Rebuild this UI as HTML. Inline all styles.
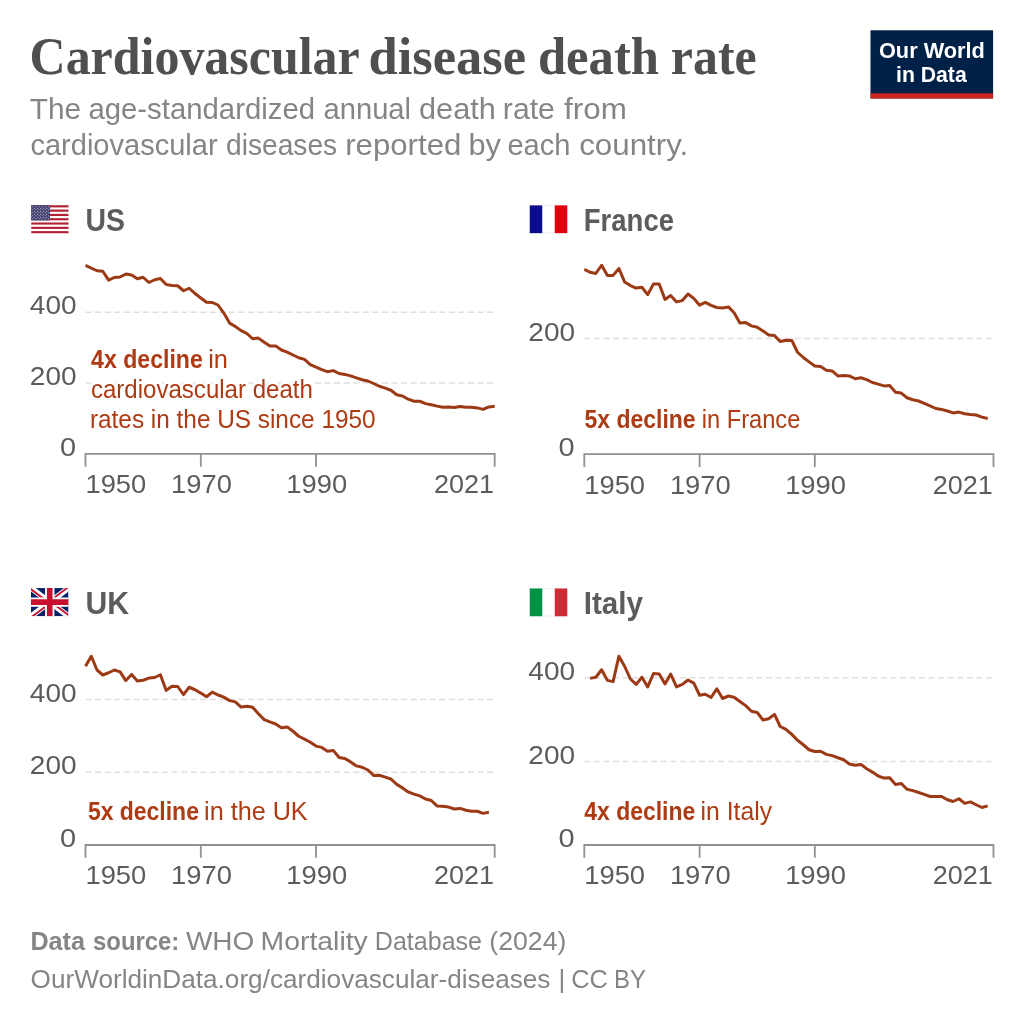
<!DOCTYPE html>
<html lang="en"><head><meta charset="utf-8"><title>Cardiovascular disease death rate</title>
<style>
html,body{margin:0;padding:0;background:#fff;width:1024px;height:1024px;overflow:hidden}
svg{display:block}
</style></head><body>
<svg width="1024" height="1024" viewBox="0 0 1024 1024">
<rect width="1024" height="1024" fill="#fff"/>
<rect x="870.5" y="30.3" width="122.6" height="68.2" fill="#002147"/>
<rect x="870.5" y="93.3" width="122.6" height="5.2" fill="#ce261e"/>
<g transform="translate(31.25 205.25)">
<rect width="37.25" height="28" fill="#fff"/>
<rect y="0.00" width="37.25" height="2.15" fill="#b22234"/>
<rect y="4.31" width="37.25" height="2.15" fill="#b22234"/>
<rect y="8.62" width="37.25" height="2.15" fill="#b22234"/>
<rect y="12.92" width="37.25" height="2.15" fill="#b22234"/>
<rect y="17.23" width="37.25" height="2.15" fill="#b22234"/>
<rect y="21.54" width="37.25" height="2.15" fill="#b22234"/>
<rect y="25.85" width="37.25" height="2.15" fill="#b22234"/>
<rect width="18.62" height="15.08" fill="#3c3b6e"/>
<circle cx="1.55" cy="1.51" r="0.55" fill="#fff" fill-opacity="0.85"/>
<circle cx="4.66" cy="1.51" r="0.55" fill="#fff" fill-opacity="0.85"/>
<circle cx="7.76" cy="1.51" r="0.55" fill="#fff" fill-opacity="0.85"/>
<circle cx="10.86" cy="1.51" r="0.55" fill="#fff" fill-opacity="0.85"/>
<circle cx="13.97" cy="1.51" r="0.55" fill="#fff" fill-opacity="0.85"/>
<circle cx="17.07" cy="1.51" r="0.55" fill="#fff" fill-opacity="0.85"/>
<circle cx="3.10" cy="3.02" r="0.55" fill="#fff" fill-opacity="0.85"/>
<circle cx="6.21" cy="3.02" r="0.55" fill="#fff" fill-opacity="0.85"/>
<circle cx="9.31" cy="3.02" r="0.55" fill="#fff" fill-opacity="0.85"/>
<circle cx="12.42" cy="3.02" r="0.55" fill="#fff" fill-opacity="0.85"/>
<circle cx="15.52" cy="3.02" r="0.55" fill="#fff" fill-opacity="0.85"/>
<circle cx="1.55" cy="4.52" r="0.55" fill="#fff" fill-opacity="0.85"/>
<circle cx="4.66" cy="4.52" r="0.55" fill="#fff" fill-opacity="0.85"/>
<circle cx="7.76" cy="4.52" r="0.55" fill="#fff" fill-opacity="0.85"/>
<circle cx="10.86" cy="4.52" r="0.55" fill="#fff" fill-opacity="0.85"/>
<circle cx="13.97" cy="4.52" r="0.55" fill="#fff" fill-opacity="0.85"/>
<circle cx="17.07" cy="4.52" r="0.55" fill="#fff" fill-opacity="0.85"/>
<circle cx="3.10" cy="6.03" r="0.55" fill="#fff" fill-opacity="0.85"/>
<circle cx="6.21" cy="6.03" r="0.55" fill="#fff" fill-opacity="0.85"/>
<circle cx="9.31" cy="6.03" r="0.55" fill="#fff" fill-opacity="0.85"/>
<circle cx="12.42" cy="6.03" r="0.55" fill="#fff" fill-opacity="0.85"/>
<circle cx="15.52" cy="6.03" r="0.55" fill="#fff" fill-opacity="0.85"/>
<circle cx="1.55" cy="7.54" r="0.55" fill="#fff" fill-opacity="0.85"/>
<circle cx="4.66" cy="7.54" r="0.55" fill="#fff" fill-opacity="0.85"/>
<circle cx="7.76" cy="7.54" r="0.55" fill="#fff" fill-opacity="0.85"/>
<circle cx="10.86" cy="7.54" r="0.55" fill="#fff" fill-opacity="0.85"/>
<circle cx="13.97" cy="7.54" r="0.55" fill="#fff" fill-opacity="0.85"/>
<circle cx="17.07" cy="7.54" r="0.55" fill="#fff" fill-opacity="0.85"/>
<circle cx="3.10" cy="9.05" r="0.55" fill="#fff" fill-opacity="0.85"/>
<circle cx="6.21" cy="9.05" r="0.55" fill="#fff" fill-opacity="0.85"/>
<circle cx="9.31" cy="9.05" r="0.55" fill="#fff" fill-opacity="0.85"/>
<circle cx="12.42" cy="9.05" r="0.55" fill="#fff" fill-opacity="0.85"/>
<circle cx="15.52" cy="9.05" r="0.55" fill="#fff" fill-opacity="0.85"/>
<circle cx="1.55" cy="10.55" r="0.55" fill="#fff" fill-opacity="0.85"/>
<circle cx="4.66" cy="10.55" r="0.55" fill="#fff" fill-opacity="0.85"/>
<circle cx="7.76" cy="10.55" r="0.55" fill="#fff" fill-opacity="0.85"/>
<circle cx="10.86" cy="10.55" r="0.55" fill="#fff" fill-opacity="0.85"/>
<circle cx="13.97" cy="10.55" r="0.55" fill="#fff" fill-opacity="0.85"/>
<circle cx="17.07" cy="10.55" r="0.55" fill="#fff" fill-opacity="0.85"/>
<circle cx="3.10" cy="12.06" r="0.55" fill="#fff" fill-opacity="0.85"/>
<circle cx="6.21" cy="12.06" r="0.55" fill="#fff" fill-opacity="0.85"/>
<circle cx="9.31" cy="12.06" r="0.55" fill="#fff" fill-opacity="0.85"/>
<circle cx="12.42" cy="12.06" r="0.55" fill="#fff" fill-opacity="0.85"/>
<circle cx="15.52" cy="12.06" r="0.55" fill="#fff" fill-opacity="0.85"/>
<circle cx="1.55" cy="13.57" r="0.55" fill="#fff" fill-opacity="0.85"/>
<circle cx="4.66" cy="13.57" r="0.55" fill="#fff" fill-opacity="0.85"/>
<circle cx="7.76" cy="13.57" r="0.55" fill="#fff" fill-opacity="0.85"/>
<circle cx="10.86" cy="13.57" r="0.55" fill="#fff" fill-opacity="0.85"/>
<circle cx="13.97" cy="13.57" r="0.55" fill="#fff" fill-opacity="0.85"/>
<circle cx="17.07" cy="13.57" r="0.55" fill="#fff" fill-opacity="0.85"/>
</g>
<g transform="translate(529.75 205.4)">
<rect x="0.25" y="0.25" width="37.0" height="27.25" fill="#fff" stroke="#ddd" stroke-width="0.5"/>
<rect width="12.50" height="27.75" fill="#0b0b8f"/>
<rect x="25.00" width="12.50" height="27.75" fill="#e1000f"/>
</g>
<svg x="31" y="588.1" width="37.5" height="28.15" viewBox="0 0 60 45" preserveAspectRatio="none">
<clipPath id="ukc"><rect width="60" height="45"/></clipPath>
<g clip-path="url(#ukc)">
<rect width="60" height="45" fill="#012169"/>
<path d="M0 0L60 45M60 0L0 45" stroke="#fff" stroke-width="9"/>
<clipPath id="ukt"><path d="M30 22.5h30v22.5zv22.5h-30zh-30v-22.5zv-22.5h30z"/></clipPath>
<path d="M0 0L60 45M60 0L0 45" stroke="#c8102e" stroke-width="6" clip-path="url(#ukt)"/>
<path d="M30 0V45M0 22.5H60" stroke="#fff" stroke-width="15"/>
<path d="M30 0V45M0 22.5H60" stroke="#c8102e" stroke-width="9"/>
</g></svg>
<g transform="translate(529.75 588.5)">
<rect x="0.25" y="0.25" width="37.0" height="27.25" fill="#fff" stroke="#ddd" stroke-width="0.5"/>
<rect width="12.50" height="27.75" fill="#009246"/>
<rect x="25.00" width="12.50" height="27.75" fill="#ce2b37"/>
</g>
<line x1="85.5" y1="312.2" x2="494.7" y2="312.2" stroke="#dfdfdf" stroke-width="1.5" stroke-dasharray="6.1 3.46"/>
<line x1="85.5" y1="383.1" x2="494.7" y2="383.1" stroke="#dfdfdf" stroke-width="1.5" stroke-dasharray="6.1 3.46"/>
<path d="M85.5 466.7V453.9H494.7V466.7M200.8 453.9v12.8M316.0 453.9v12.8" fill="none" stroke="#919191" stroke-width="1.8"/>
<line x1="584.3" y1="338.5" x2="993.5" y2="338.5" stroke="#dfdfdf" stroke-width="1.5" stroke-dasharray="6.1 3.46"/>
<path d="M584.3 466.9V454.1H993.5V466.9M699.6 454.1v12.8M814.8 454.1v12.8" fill="none" stroke="#919191" stroke-width="1.8"/>
<line x1="85.5" y1="699.5" x2="494.7" y2="699.5" stroke="#dfdfdf" stroke-width="1.5" stroke-dasharray="6.1 3.46"/>
<line x1="85.5" y1="772.25" x2="494.7" y2="772.25" stroke="#dfdfdf" stroke-width="1.5" stroke-dasharray="6.1 3.46"/>
<path d="M85.5 857.8V845.0H494.7V857.8M200.8 845.0v12.8M316.0 845.0v12.8" fill="none" stroke="#919191" stroke-width="1.8"/>
<line x1="584.3" y1="677.8" x2="993.5" y2="677.8" stroke="#dfdfdf" stroke-width="1.5" stroke-dasharray="6.1 3.46"/>
<line x1="584.3" y1="761.5" x2="993.5" y2="761.5" stroke="#dfdfdf" stroke-width="1.5" stroke-dasharray="6.1 3.46"/>
<path d="M584.3 857.8V845.0H993.5V857.8M699.6 845.0v12.8M814.8 845.0v12.8" fill="none" stroke="#919191" stroke-width="1.8"/>
<text y="73.6" font-family='"Liberation Serif", serif' font-size="53" fill="#4f4f4f" font-weight="bold"><tspan x="29.58" textLength="329.21" lengthAdjust="spacingAndGlyphs">Cardiovascular</tspan> <tspan x="368.42" textLength="157.68" lengthAdjust="spacingAndGlyphs">disease</tspan> <tspan x="537.89" textLength="121.13" lengthAdjust="spacingAndGlyphs">death</tspan> <tspan x="670.86" textLength="85.77" lengthAdjust="spacingAndGlyphs">rate</tspan></text>
<text y="119.3" font-family='"Liberation Sans", sans-serif' font-size="30" fill="#858585"><tspan x="29.71" textLength="51.28" lengthAdjust="spacingAndGlyphs">The</tspan> <tspan x="88.42" textLength="226.67" lengthAdjust="spacingAndGlyphs">age-standardized</tspan> <tspan x="323.53" textLength="87.50" lengthAdjust="spacingAndGlyphs">annual</tspan> <tspan x="418.98" textLength="76.90" lengthAdjust="spacingAndGlyphs">death</tspan> <tspan x="502.89" textLength="52.03" lengthAdjust="spacingAndGlyphs">rate</tspan> <tspan x="564.10" textLength="62.69" lengthAdjust="spacingAndGlyphs">from</tspan></text>
<text y="155.3" font-family='"Liberation Sans", sans-serif' font-size="30" fill="#858585"><tspan x="30.43" textLength="187.18" lengthAdjust="spacingAndGlyphs">cardiovascular</tspan> <tspan x="225.96" textLength="111.26" lengthAdjust="spacingAndGlyphs">diseases</tspan> <tspan x="345.22" textLength="116.10" lengthAdjust="spacingAndGlyphs">reported</tspan> <tspan x="468.45" textLength="32.45" lengthAdjust="spacingAndGlyphs">by</tspan> <tspan x="507.43" textLength="63.07" lengthAdjust="spacingAndGlyphs">each</tspan> <tspan x="579.16" textLength="109.16" lengthAdjust="spacingAndGlyphs">country.</tspan></text>
<text y="58.4" font-family='"Liberation Sans", sans-serif' font-size="22.6" fill="#fff" font-weight="bold"><tspan x="878.94" textLength="105.97" lengthAdjust="spacingAndGlyphs">Our World</tspan></text>
<text y="81.5" font-family='"Liberation Sans", sans-serif' font-size="22.6" fill="#fff" font-weight="bold"><tspan x="896.02" textLength="70.68" lengthAdjust="spacingAndGlyphs">in Data</tspan></text>
<text y="231.0" font-family='"Liberation Sans", sans-serif' font-size="31.3" fill="#5c5c5c" font-weight="bold"><tspan x="85.58" textLength="39.52" lengthAdjust="spacingAndGlyphs">US</tspan></text>
<text y="230.9" font-family='"Liberation Sans", sans-serif' font-size="31.3" fill="#5c5c5c" font-weight="bold"><tspan x="583.84" textLength="90.12" lengthAdjust="spacingAndGlyphs">France</tspan></text>
<text y="614" font-family='"Liberation Sans", sans-serif' font-size="31.3" fill="#5c5c5c" font-weight="bold"><tspan x="85.57" textLength="43.60" lengthAdjust="spacingAndGlyphs">UK</tspan></text>
<text y="614" font-family='"Liberation Sans", sans-serif' font-size="31.3" fill="#5c5c5c" font-weight="bold"><tspan x="583.71" textLength="59.13" lengthAdjust="spacingAndGlyphs">Italy</tspan></text>
<text y="949.8" font-family='"Liberation Sans", sans-serif' font-size="26" fill="#858585"><tspan x="30.47" textLength="54.41" lengthAdjust="spacingAndGlyphs" font-weight="bold">Data</tspan> <tspan x="93.08" textLength="86.20" lengthAdjust="spacingAndGlyphs" font-weight="bold">source:</tspan> <tspan x="185.90" textLength="68.36" lengthAdjust="spacingAndGlyphs">WHO</tspan> <tspan x="260.62" textLength="107.15" lengthAdjust="spacingAndGlyphs">Mortality</tspan> <tspan x="374.82" textLength="107.24" lengthAdjust="spacingAndGlyphs">Database</tspan> <tspan x="489.35" textLength="77.04" lengthAdjust="spacingAndGlyphs">(2024)</tspan></text>
<text y="987.8" font-family='"Liberation Sans", sans-serif' font-size="26" fill="#858585"><tspan x="30.59" textLength="519.87" lengthAdjust="spacingAndGlyphs">OurWorldinData.org/cardiovascular-diseases</tspan> <tspan x="558.40" textLength="6.77" lengthAdjust="spacingAndGlyphs">|</tspan> <tspan x="571.23" textLength="36.60" lengthAdjust="spacingAndGlyphs">CC</tspan> <tspan x="614.06" textLength="31.98" lengthAdjust="spacingAndGlyphs">BY</tspan></text>
<text y="314.2" font-family='"Liberation Sans", sans-serif' font-size="26.5" fill="#5c5c5c"><tspan x="29.84" textLength="46.75" lengthAdjust="spacingAndGlyphs">400</tspan></text>
<text y="385.1" font-family='"Liberation Sans", sans-serif' font-size="26.5" fill="#5c5c5c"><tspan x="29.84" textLength="46.75" lengthAdjust="spacingAndGlyphs">200</tspan></text>
<text y="455.5" font-family='"Liberation Sans", sans-serif' font-size="26.5" fill="#5c5c5c"><tspan x="60.01" textLength="16.11" lengthAdjust="spacingAndGlyphs">0</tspan></text>
<text y="493.29999999999995" font-family='"Liberation Sans", sans-serif' font-size="26.5" fill="#5c5c5c"><tspan x="85.44" textLength="60.85" lengthAdjust="spacingAndGlyphs">1950</tspan></text>
<text y="493.29999999999995" font-family='"Liberation Sans", sans-serif' font-size="26.5" fill="#5c5c5c"><tspan x="171.10" textLength="60.85" lengthAdjust="spacingAndGlyphs">1970</tspan></text>
<text y="493.29999999999995" font-family='"Liberation Sans", sans-serif' font-size="26.5" fill="#5c5c5c"><tspan x="286.36" textLength="60.85" lengthAdjust="spacingAndGlyphs">1990</tspan></text>
<text y="493.29999999999995" font-family='"Liberation Sans", sans-serif' font-size="26.5" fill="#5c5c5c"><tspan x="434.06" textLength="59.99" lengthAdjust="spacingAndGlyphs">2021</tspan></text>
<text y="367.7" font-family='"Liberation Sans", sans-serif' font-size="25" fill="#ad3b14" stroke="#fff" stroke-width="5" stroke-linejoin="round" paint-order="stroke"><tspan x="91.10" textLength="111.74" lengthAdjust="spacingAndGlyphs" font-weight="bold">4x decline</tspan> <tspan x="208.22" textLength="19.77" lengthAdjust="spacingAndGlyphs">in</tspan></text>
<text y="397.6" font-family='"Liberation Sans", sans-serif' font-size="25" fill="#ad3b14" stroke="#fff" stroke-width="5" stroke-linejoin="round" paint-order="stroke"><tspan x="90.94" textLength="221.95" lengthAdjust="spacingAndGlyphs">cardiovascular death</tspan></text>
<text y="427.5" font-family='"Liberation Sans", sans-serif' font-size="25" fill="#ad3b14" stroke="#fff" stroke-width="5" stroke-linejoin="round" paint-order="stroke"><tspan x="89.95" textLength="285.65" lengthAdjust="spacingAndGlyphs">rates in the US since 1950</tspan></text>
<text y="340.5" font-family='"Liberation Sans", sans-serif' font-size="26.5" fill="#5c5c5c"><tspan x="528.34" textLength="46.75" lengthAdjust="spacingAndGlyphs">200</tspan></text>
<text y="455.70000000000005" font-family='"Liberation Sans", sans-serif' font-size="26.5" fill="#5c5c5c"><tspan x="558.51" textLength="16.11" lengthAdjust="spacingAndGlyphs">0</tspan></text>
<text y="493.5" font-family='"Liberation Sans", sans-serif' font-size="26.5" fill="#5c5c5c"><tspan x="584.24" textLength="60.85" lengthAdjust="spacingAndGlyphs">1950</tspan></text>
<text y="493.5" font-family='"Liberation Sans", sans-serif' font-size="26.5" fill="#5c5c5c"><tspan x="669.90" textLength="60.85" lengthAdjust="spacingAndGlyphs">1970</tspan></text>
<text y="493.5" font-family='"Liberation Sans", sans-serif' font-size="26.5" fill="#5c5c5c"><tspan x="785.16" textLength="60.85" lengthAdjust="spacingAndGlyphs">1990</tspan></text>
<text y="493.5" font-family='"Liberation Sans", sans-serif' font-size="26.5" fill="#5c5c5c"><tspan x="932.86" textLength="59.99" lengthAdjust="spacingAndGlyphs">2021</tspan></text>
<text y="427.8" font-family='"Liberation Sans", sans-serif' font-size="25" fill="#ad3b14" stroke="#fff" stroke-width="5" stroke-linejoin="round" paint-order="stroke"><tspan x="584.58" textLength="111.05" lengthAdjust="spacingAndGlyphs" font-weight="bold">5x decline</tspan> <tspan x="701.71" textLength="98.65" lengthAdjust="spacingAndGlyphs">in France</tspan></text>
<text y="701.5" font-family='"Liberation Sans", sans-serif' font-size="26.5" fill="#5c5c5c"><tspan x="29.84" textLength="46.75" lengthAdjust="spacingAndGlyphs">400</tspan></text>
<text y="774.25" font-family='"Liberation Sans", sans-serif' font-size="26.5" fill="#5c5c5c"><tspan x="29.84" textLength="46.75" lengthAdjust="spacingAndGlyphs">200</tspan></text>
<text y="846.6" font-family='"Liberation Sans", sans-serif' font-size="26.5" fill="#5c5c5c"><tspan x="60.01" textLength="16.11" lengthAdjust="spacingAndGlyphs">0</tspan></text>
<text y="884.4" font-family='"Liberation Sans", sans-serif' font-size="26.5" fill="#5c5c5c"><tspan x="85.44" textLength="60.85" lengthAdjust="spacingAndGlyphs">1950</tspan></text>
<text y="884.4" font-family='"Liberation Sans", sans-serif' font-size="26.5" fill="#5c5c5c"><tspan x="171.10" textLength="60.85" lengthAdjust="spacingAndGlyphs">1970</tspan></text>
<text y="884.4" font-family='"Liberation Sans", sans-serif' font-size="26.5" fill="#5c5c5c"><tspan x="286.36" textLength="60.85" lengthAdjust="spacingAndGlyphs">1990</tspan></text>
<text y="884.4" font-family='"Liberation Sans", sans-serif' font-size="26.5" fill="#5c5c5c"><tspan x="434.06" textLength="59.99" lengthAdjust="spacingAndGlyphs">2021</tspan></text>
<text y="820.4" font-family='"Liberation Sans", sans-serif' font-size="25" fill="#ad3b14" stroke="#fff" stroke-width="5" stroke-linejoin="round" paint-order="stroke"><tspan x="87.88" textLength="111.05" lengthAdjust="spacingAndGlyphs" font-weight="bold">5x decline</tspan> <tspan x="204.09" textLength="103.56" lengthAdjust="spacingAndGlyphs">in the UK</tspan></text>
<text y="679.8" font-family='"Liberation Sans", sans-serif' font-size="26.5" fill="#5c5c5c"><tspan x="528.34" textLength="46.75" lengthAdjust="spacingAndGlyphs">400</tspan></text>
<text y="763.5" font-family='"Liberation Sans", sans-serif' font-size="26.5" fill="#5c5c5c"><tspan x="528.34" textLength="46.75" lengthAdjust="spacingAndGlyphs">200</tspan></text>
<text y="846.6" font-family='"Liberation Sans", sans-serif' font-size="26.5" fill="#5c5c5c"><tspan x="558.51" textLength="16.11" lengthAdjust="spacingAndGlyphs">0</tspan></text>
<text y="884.4" font-family='"Liberation Sans", sans-serif' font-size="26.5" fill="#5c5c5c"><tspan x="584.24" textLength="60.85" lengthAdjust="spacingAndGlyphs">1950</tspan></text>
<text y="884.4" font-family='"Liberation Sans", sans-serif' font-size="26.5" fill="#5c5c5c"><tspan x="669.90" textLength="60.85" lengthAdjust="spacingAndGlyphs">1970</tspan></text>
<text y="884.4" font-family='"Liberation Sans", sans-serif' font-size="26.5" fill="#5c5c5c"><tspan x="785.16" textLength="60.85" lengthAdjust="spacingAndGlyphs">1990</tspan></text>
<text y="884.4" font-family='"Liberation Sans", sans-serif' font-size="26.5" fill="#5c5c5c"><tspan x="932.86" textLength="59.99" lengthAdjust="spacingAndGlyphs">2021</tspan></text>
<text y="820.4" font-family='"Liberation Sans", sans-serif' font-size="25" fill="#ad3b14" stroke="#fff" stroke-width="5" stroke-linejoin="round" paint-order="stroke"><tspan x="584.30" textLength="110.93" lengthAdjust="spacingAndGlyphs" font-weight="bold">4x decline</tspan> <tspan x="700.62" textLength="71.44" lengthAdjust="spacingAndGlyphs">in Italy</tspan></text>
<polyline points="85.5,265.4 91.3,268.1 97.0,270.75 102.8,271.25 108.6,280.1 114.3,277.5 120.1,277.0 125.8,274.1 131.6,275.0 137.4,278.75 143.1,277.25 148.9,282.5 154.7,279.75 160.4,278.5 166.2,284.5 171.9,285.4 177.7,285.75 183.5,290.75 189.2,288.25 195.0,293.5 200.8,298.0 206.5,302.25 212.3,302.5 218.0,305.0 223.8,313.1 229.6,323.1 235.3,326.5 241.1,330.6 246.9,333.5 252.6,338.75 258.4,338.1 264.2,342.25 269.9,346.0 275.7,345.9 281.4,350.0 287.2,352.1 293.0,355.0 298.7,357.75 304.5,359.4 310.3,364.7 316.0,367.2 321.8,369.6 327.5,371.7 333.3,370.6 339.1,373.5 344.8,374.4 350.6,375.9 356.4,377.9 362.1,379.75 367.9,381.0 373.6,383.5 379.4,386.25 385.2,388.1 390.9,390.25 396.7,394.75 402.5,396.0 408.2,399.2 414.0,401.25 419.8,401.25 425.5,403.6 431.3,404.7 437.0,406.1 442.8,407.25 448.6,407.1 454.3,407.4 460.1,406.6 465.9,407.25 471.6,407.25 477.4,407.9 483.1,409.4 488.9,406.9 494.7,406.25" fill="none" stroke="#9c3a15" stroke-width="3" stroke-linejoin="round"/>
<polyline points="584.3,269.4 590.1,272.25 595.8,273.5 601.6,265.25 607.4,275.4 613.1,275.4 618.9,268.5 624.6,281.9 630.4,285.6 636.2,288.1 641.9,287.25 647.7,294.6 653.5,284.0 659.2,284.0 665.0,299.4 670.7,295.6 676.5,301.9 682.3,300.6 688.0,294.0 693.8,298.4 699.6,305.2 705.3,302.4 711.1,305.4 716.8,307.5 722.6,307.9 728.4,306.9 734.1,312.75 739.9,322.9 745.7,322.5 751.4,325.9 757.2,327.25 763.0,330.9 768.7,335.0 774.5,335.6 780.2,341.5 786.0,340.25 791.8,340.4 797.5,352.25 803.3,357.5 809.1,361.9 814.8,366.0 820.6,366.6 826.3,370.25 832.1,370.9 837.9,375.9 843.6,375.6 849.4,375.9 855.2,378.75 860.9,377.75 866.7,379.6 872.4,382.5 878.2,384.1 884.0,385.9 889.7,385.6 895.5,392.3 901.3,393.1 907.0,397.75 912.8,399.75 918.6,401.0 924.3,403.4 930.1,405.9 935.8,408.5 941.6,409.4 947.4,411.0 953.1,412.9 958.9,412.1 964.7,413.75 970.4,414.6 976.2,415.0 981.9,417.1 987.7,418.5" fill="none" stroke="#9c3a15" stroke-width="3" stroke-linejoin="round"/>
<polyline points="85.5,666.25 91.3,656.25 97.0,670.0 102.8,675.0 108.6,672.75 114.3,670.0 120.1,671.9 125.8,680.6 131.6,674.4 137.4,681.0 143.1,680.25 148.9,678.1 154.7,677.5 160.4,674.75 166.2,690.4 171.9,686.25 177.7,686.5 183.5,694.6 189.2,687.25 195.0,689.75 200.8,693.1 206.5,696.75 212.3,692.1 218.0,695.0 223.8,697.1 229.6,700.6 235.3,701.9 241.1,707.1 246.9,706.25 252.6,707.25 258.4,713.75 264.2,719.6 269.9,721.9 275.7,724.0 281.4,727.75 287.2,726.9 293.0,731.25 298.7,736.25 304.5,739.1 310.3,742.2 316.0,746.1 321.8,747.4 327.5,751.25 333.3,750.4 339.1,757.5 344.8,758.5 350.6,761.9 356.4,765.9 362.1,767.25 367.9,770.0 373.6,775.4 379.4,775.25 385.2,777.1 390.9,779.0 396.7,784.4 402.5,787.9 408.2,791.9 414.0,794.1 419.8,795.9 425.5,799.0 431.3,800.5 437.0,805.9 442.8,806.25 448.6,807.1 454.3,809.0 460.1,808.4 465.9,810.25 471.6,811.25 477.4,811.25 483.1,813.4 488.9,812.25" fill="none" stroke="#9c3a15" stroke-width="3" stroke-linejoin="round"/>
<polyline points="590.1,678.4 595.8,677.25 601.6,669.75 607.4,680.4 613.1,681.6 618.9,656.25 624.6,666.25 630.4,679.0 636.2,684.4 641.9,677.25 647.7,686.9 653.5,673.5 659.2,674.0 665.0,684.0 670.7,674.0 676.5,686.9 682.3,684.4 688.0,680.0 693.8,683.1 699.6,695.25 705.3,694.25 711.1,697.5 716.8,688.75 722.6,698.5 728.4,696.0 734.1,697.25 739.9,701.5 745.7,705.6 751.4,711.25 757.2,712.5 763.0,720.0 768.7,718.75 774.5,714.4 780.2,726.5 786.0,729.4 791.8,734.4 797.5,740.25 803.3,744.75 809.1,749.75 814.8,751.5 820.6,751.25 826.3,754.4 832.1,755.6 837.9,757.75 843.6,759.75 849.4,764.0 855.2,765.25 860.9,764.4 866.7,768.75 872.4,772.1 878.2,776.0 884.0,778.1 889.7,777.75 895.5,784.4 901.3,783.45 907.0,789.25 912.8,790.6 918.6,792.5 924.3,794.4 930.1,796.5 935.8,796.6 941.6,796.5 947.4,799.75 953.1,801.5 958.9,798.75 964.7,803.4 970.4,801.9 976.2,804.75 981.9,807.5 987.7,805.9" fill="none" stroke="#9c3a15" stroke-width="3" stroke-linejoin="round"/>
</svg></body></html>
